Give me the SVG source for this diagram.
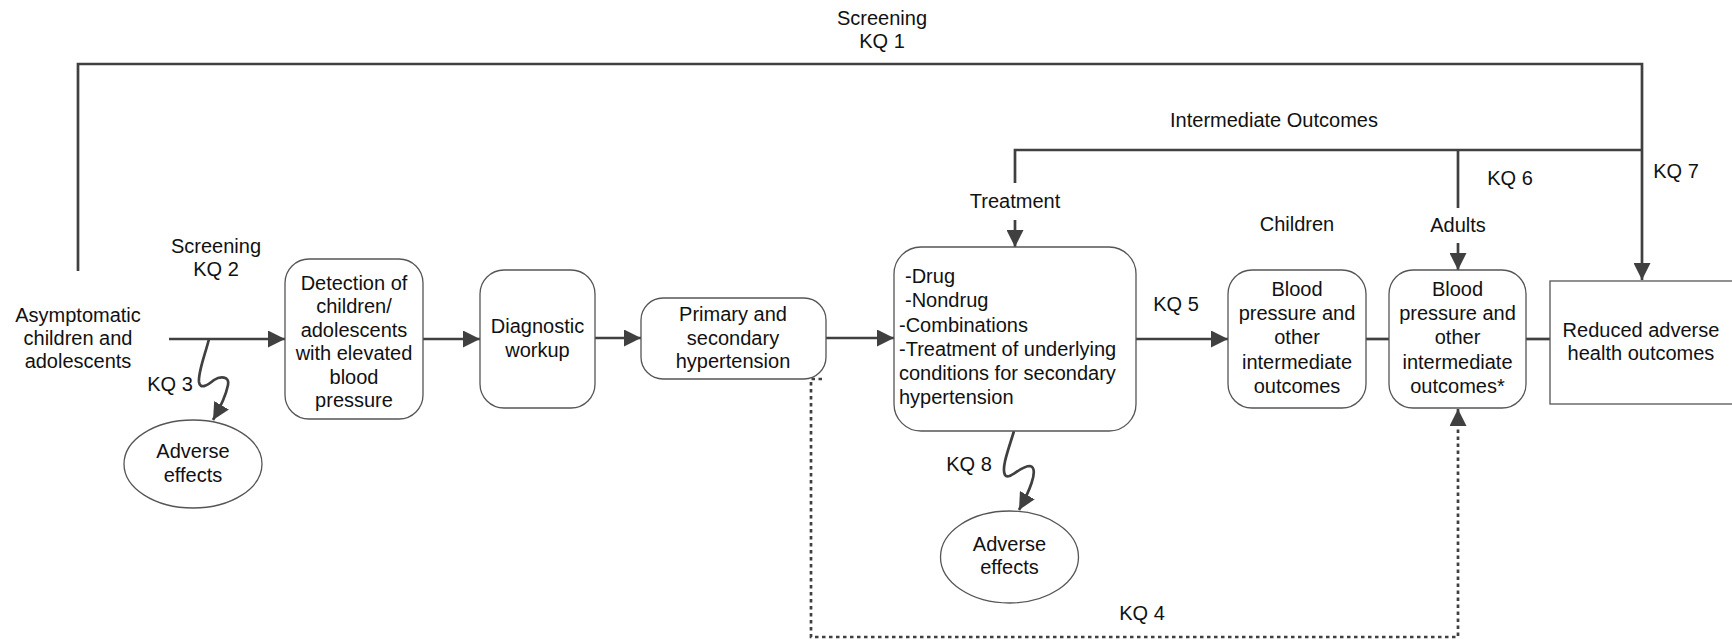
<svg xmlns="http://www.w3.org/2000/svg" width="1732" height="641" viewBox="0 0 1732 641">
<style>
text{font-family:"Liberation Sans",Arial,sans-serif;font-size:20px;fill:#111;text-anchor:middle}
.l{text-anchor:start}
.box{fill:#fff;stroke:#555;stroke-width:1.3}
.c{fill:none;stroke:#404040;stroke-width:2.7}
.d{fill:none;stroke:#404040;stroke-width:2.7;stroke-dasharray:3.5 3.5}
</style>
<defs>
<marker id="ah" markerUnits="userSpaceOnUse" markerWidth="17" markerHeight="17" viewBox="0 0 16 16" refX="16" refY="8" orient="auto">
<path d="M0,0 L16,8 L0,16 z" fill="#404040"/>
</marker>
</defs>
<rect width="1732" height="641" fill="#fff"/>

<g id="connectors">
<path class="c" d="M78 271 V64 H1642 V280" marker-end="url(#ah)"/>
<path class="c" d="M1015 183 V150 H1642"/>
<path class="c" d="M1458 150 V208"/>
<path class="c" d="M1015 220 V247" marker-end="url(#ah)"/>
<path class="c" d="M1458 243 V270" marker-end="url(#ah)"/>
<path class="c" d="M169 339 H285" marker-end="url(#ah)"/>
<path class="c" d="M423 339 H480" marker-end="url(#ah)"/>
<path class="c" d="M595 338 H641" marker-end="url(#ah)"/>
<path class="c" d="M826 338 H894" marker-end="url(#ah)"/>
<path class="c" d="M1136 339 H1228" marker-end="url(#ah)"/>
<path class="c" d="M1366 339 H1389"/>
<path class="c" d="M1526 339 H1550"/>
<path class="d" d="M822 379 H811 V637 H1458 V409" marker-end="url(#ah)"/>
<path class="c" d="M209 339 C205 355, 198 372, 199 382 C200 390, 208 385, 214 380 C220 376, 230 376, 228 385 C226 395, 220 408, 213 420" marker-end="url(#ah)"/>
<path class="c" d="M1014 431 C1009 448, 1001 468, 1005 475 C1009 481, 1020 466, 1030 466 C1040 468, 1028 494, 1019 510" marker-end="url(#ah)"/>
</g>

<g id="labels">
<text x="882" y="25">Screening</text>
<text x="882" y="48">KQ 1</text>
<text x="1274" y="127">Intermediate Outcomes</text>
<text x="1510" y="185">KQ 6</text>
<text x="1676" y="178">KQ 7</text>
<text x="1015" y="208">Treatment</text>
<text x="1297" y="231">Children</text>
<text x="1458" y="232">Adults</text>
<text x="216" y="253">Screening</text>
<text x="216" y="276">KQ 2</text>
<text x="170" y="391">KQ 3</text>
<text x="1176" y="311">KQ 5</text>
<text x="969" y="471">KQ 8</text>
<text x="1142" y="620">KQ 4</text>
</g>

<g id="population">
<text x="78" y="322">Asymptomatic</text>
<text x="78" y="345">children and</text>
<text x="78" y="368">adolescents</text>
</g>

<g id="detection">
<rect class="box" x="285" y="259" width="138" height="160" rx="24"/>
<text x="354" y="290">Detection of</text>
<text x="354" y="313">children/</text>
<text x="354" y="337">adolescents</text>
<text x="354" y="360">with elevated</text>
<text x="354" y="384">blood</text>
<text x="354" y="407">pressure</text>
</g>

<g id="diagnostic">
<rect class="box" x="480" y="270" width="115" height="138" rx="24"/>
<text x="537.5" y="333">Diagnostic</text>
<text x="537.5" y="357">workup</text>
</g>

<g id="primary">
<rect class="box" x="641" y="298" width="185" height="81" rx="22"/>
<text x="733" y="321">Primary and</text>
<text x="733" y="345">secondary</text>
<text x="733" y="368">hypertension</text>
</g>

<g id="treatment">
<rect class="box" x="894" y="247" width="242" height="184" rx="27"/>
<text class="l" x="905" y="283">-Drug</text>
<text class="l" x="905" y="307">-Nondrug</text>
<text class="l" x="899" y="332">-Combinations</text>
<text class="l" x="899" y="356">-Treatment of underlying</text>
<text class="l" x="899" y="380">conditions for secondary</text>
<text class="l" x="899" y="404">hypertension</text>
</g>

<g id="bp-children">
<rect class="box" x="1228" y="270" width="138" height="138" rx="24"/>
<text x="1297" y="296">Blood</text>
<text x="1297" y="320">pressure and</text>
<text x="1297" y="344">other</text>
<text x="1297" y="369">intermediate</text>
<text x="1297" y="393">outcomes</text>
</g>

<g id="bp-adults">
<rect class="box" x="1389" y="270" width="137" height="138" rx="24"/>
<text x="1457.5" y="296">Blood</text>
<text x="1457.5" y="320">pressure and</text>
<text x="1457.5" y="344">other</text>
<text x="1457.5" y="369">intermediate</text>
<text x="1457.5" y="393">outcomes*</text>
</g>

<g id="reduced">
<rect class="box" x="1550" y="281" width="200" height="123"/>
<text x="1641" y="337">Reduced adverse</text>
<text x="1641" y="360">health outcomes</text>
</g>

<g id="adverse1">
<ellipse class="box" cx="193" cy="464" rx="69" ry="44"/>
<text x="193" y="458">Adverse</text>
<text x="193" y="482">effects</text>
</g>

<g id="adverse2">
<ellipse class="box" cx="1009.5" cy="557" rx="69" ry="46"/>
<text x="1009.5" y="551">Adverse</text>
<text x="1009.5" y="574">effects</text>
</g>
</svg>
